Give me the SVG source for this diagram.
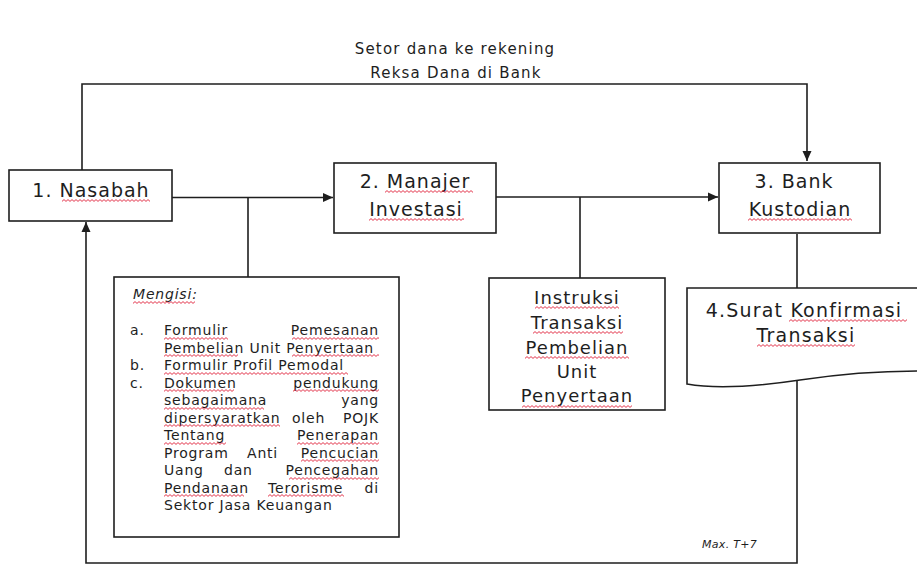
<svg xmlns="http://www.w3.org/2000/svg" width="917" height="567" viewBox="0 0 917 567">
<style>
  text { font-family: "DejaVu Sans", Verdana, sans-serif; fill: #1e1e1e; }
  .box { fill: #ffffff; stroke: #1e1e1e; stroke-width: 1.6; }
  .node { font-size: 19px; letter-spacing: 1px; text-anchor: middle; }
  .ins { font-size: 18px; letter-spacing: 1px; text-anchor: middle; }
  .doc { font-size: 19px; letter-spacing: 1.2px; text-anchor: middle; }
  .lbl { font-size: 15px; letter-spacing: 1.2px; text-anchor: middle; }
  .note { font-size: 14px; letter-spacing: 0.8px; }
  .end { text-anchor: end; }
  .it { font-style: italic; }
  .max { font-size: 11px; letter-spacing: 0.3px; font-style: italic; }
  .line { fill: none; stroke: #1e1e1e; stroke-width: 1.6; }
  .sq { fill: url(#wave); }
</style>
<defs>
  <marker id="arr" viewBox="0 0 10 10" refX="10" refY="5" markerWidth="10" markerHeight="10" markerUnits="userSpaceOnUse" orient="auto">
    <path d="M0,0.5 L10,5 L0,9.5 Z" fill="#1e1e1e"/>
  </marker>
  <pattern id="wave" width="4" height="3" patternUnits="userSpaceOnUse">
    <path d="M0,2.4 L2,0.6 L4,2.4" fill="none" stroke="#e0203a" stroke-width="0.9"/>
  </pattern>
</defs>
<rect width="917" height="567" fill="#ffffff"/>

<g id="connectors">
  <path class="line" d="M82,170 V84 H807 V161" marker-end="url(#arr)"/>
  <path class="line" d="M172,197.5 H333" marker-end="url(#arr)"/>
  <path class="line" d="M248,197.5 V277"/>
  <path class="line" d="M496,197 H718" marker-end="url(#arr)"/>
  <path class="line" d="M580,197 V278"/>
  <path class="line" d="M797,234 V288"/>
  <path class="line" d="M797,381 V563 H86 V222" marker-end="url(#arr)"/>
</g>

<g id="label-setor">
  <text class="lbl" x="455" y="54">Setor dana ke rekening</text>
  <text class="lbl" x="456" y="78">Reksa Dana di Bank</text>
</g>

<g id="n1-nasabah">
  <rect class="box" x="9" y="170" width="163" height="51"/>
  <text class="node" x="91" y="197">1. Nasabah</text>
  <rect class="sq" transform="translate(62,199)" width="88" height="3"/>
</g>

<g id="n2-manajer">
  <rect class="box" x="334" y="163" width="162" height="70"/>
  <text class="node" x="415" y="188">2. Manajer</text>
  <text class="node" x="416" y="216">Investasi</text>
  <rect class="sq" transform="translate(385,190)" width="88" height="3"/>
  <rect class="sq" transform="translate(369,218)" width="95" height="3"/>
</g>

<g id="n3-bank">
  <rect class="box" x="719" y="163" width="161" height="70"/>
  <text class="node" x="794" y="188">3. Bank</text>
  <text class="node" x="800" y="216">Kustodian</text>
  <rect class="sq" transform="translate(748,218)" width="104" height="3"/>
</g>

<g id="n4-surat">
  <path class="box" d="M687,288 H920 V371 C880,371 840,374 800,380 C760,386 720,390 687,384 Z"/>
  <text class="doc" x="804" y="317">4.Surat Konfirmasi</text>
  <text class="doc" x="806" y="342">Transaksi</text>
  <rect class="sq" transform="translate(789,319)" width="118" height="3"/>
  <rect class="sq" transform="translate(757,344)" width="98" height="3"/>
</g>

<g id="n5-mengisi">
  <rect class="box" x="114" y="277" width="285" height="260"/>
  <text class="note it" x="133" y="299">Mengisi:</text>
  <text class="note" x="130" y="335">a.</text>
  <text class="note" x="164" y="335">Formulir</text>
  <text class="note end" x="379" y="335">Pemesanan</text>
  <text class="note" x="164" y="352.5">Pembelian Unit Penyertaan</text>
  <text class="note" x="130" y="370">b.</text>
  <text class="note" x="164" y="370">Formulir Profil Pemodal</text>
  <text class="note" x="130" y="387.5">c.</text>
  <text class="note" x="164" y="387.5">Dokumen</text>
  <text class="note end" x="379" y="387.5">pendukung</text>
  <text class="note" x="164" y="405">sebagaimana</text>
  <text class="note end" x="379" y="405">yang</text>
  <text class="note" x="164" y="422.5">dipersyaratkan</text>
  <text class="note" x="292" y="422.5">oleh</text>
  <text class="note end" x="379" y="422.5">POJK</text>
  <text class="note" x="164" y="440">Tentang</text>
  <text class="note end" x="379" y="440">Penerapan</text>
  <text class="note" x="164" y="457.5">Program</text>
  <text class="note" x="247" y="457.5">Anti</text>
  <text class="note end" x="379" y="457.5">Pencucian</text>
  <text class="note" x="164" y="475">Uang</text>
  <text class="note" x="224" y="475">dan</text>
  <text class="note end" x="379" y="475">Pencegahan</text>
  <text class="note" x="164" y="492.5">Pendanaan</text>
  <text class="note" x="268" y="492.5">Terorisme</text>
  <text class="note end" x="379" y="492.5">di</text>
  <text class="note" x="164" y="510">Sektor Jasa Keuangan</text>
  <rect class="sq" transform="translate(133,301)" width="62" height="3"/>
  <rect class="sq" transform="translate(164,337)" width="64" height="3"/>
  <rect class="sq" transform="translate(292,337)" width="87" height="3"/>
  <rect class="sq" transform="translate(164,354)" width="74" height="3"/>
  <rect class="sq" transform="translate(292,354)" width="87" height="3"/>
  <rect class="sq" transform="translate(164,372)" width="184" height="3"/>
  <rect class="sq" transform="translate(164,389)" width="70" height="3"/>
  <rect class="sq" transform="translate(293,389)" width="86" height="3"/>
  <rect class="sq" transform="translate(164,407)" width="100" height="3"/>
  <rect class="sq" transform="translate(164,424)" width="116" height="3"/>
  <rect class="sq" transform="translate(164,442)" width="62" height="3"/>
  <rect class="sq" transform="translate(297,442)" width="82" height="3"/>
  <rect class="sq" transform="translate(301,459)" width="78" height="3"/>
  <rect class="sq" transform="translate(289,477)" width="90" height="3"/>
  <rect class="sq" transform="translate(164,494)" width="80" height="3"/>
  <rect class="sq" transform="translate(268,494)" width="76" height="3"/>
</g>

<g id="n6-instruksi">
  <rect class="box" x="489" y="278" width="176" height="132"/>
  <text class="ins" x="577" y="304">Instruksi</text>
  <text class="ins" x="577" y="329">Transaksi</text>
  <text class="ins" x="577" y="354">Pembelian</text>
  <text class="ins" x="577" y="378">Unit</text>
  <text class="ins" x="577" y="402">Penyertaan</text>
  <rect class="sq" transform="translate(535,306)" width="84" height="3"/>
  <rect class="sq" transform="translate(533,331)" width="90" height="3"/>
  <rect class="sq" transform="translate(525,356)" width="104" height="3"/>
  <rect class="sq" transform="translate(522,405)" width="110" height="3"/>
</g>

<g id="max-label">
  <text class="max" x="702" y="548">Max. T+7</text>
</g>
</svg>
